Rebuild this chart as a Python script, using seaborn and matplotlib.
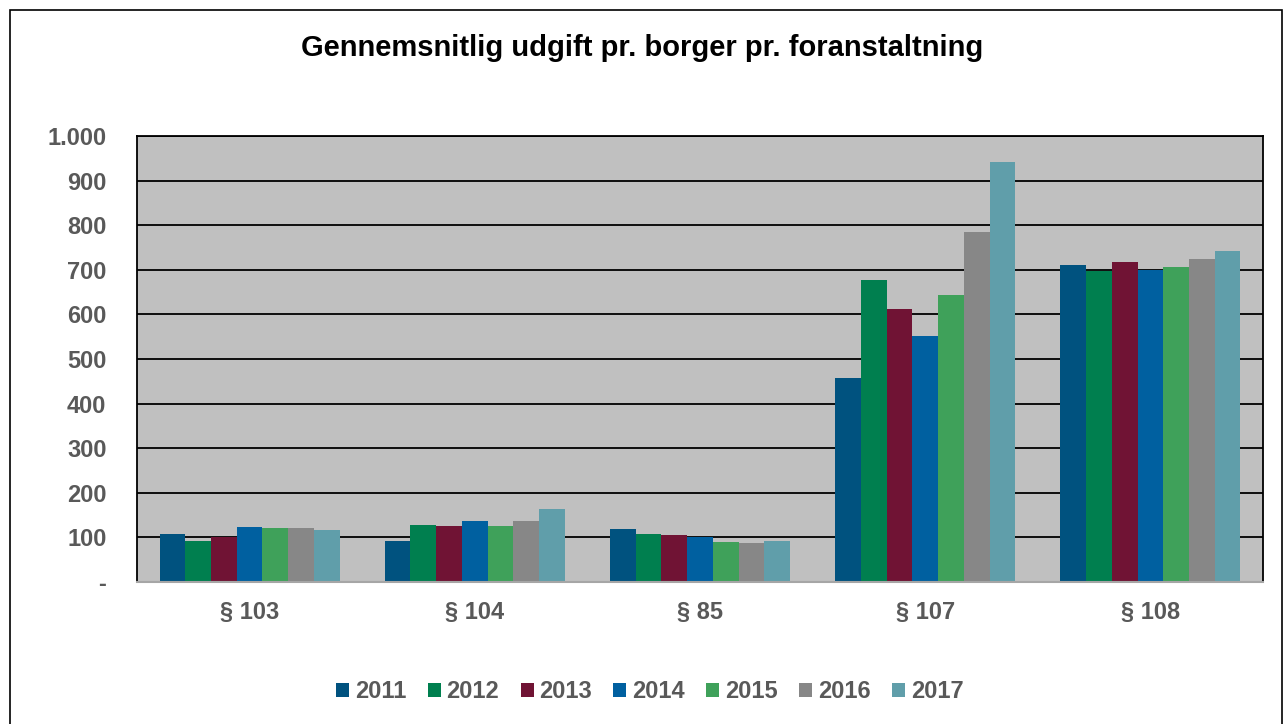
import pandas as pd
import seaborn as sns
import matplotlib.pyplot as plt
import matplotlib.patches as patches
from matplotlib.ticker import FuncFormatter

# data
paragraphs = ['§ 103', '§ 104', '§ 85', '§ 107', '§ 108']
years = ['2011', '2012', '2013', '2014', '2015', '2016', '2017']
v2011 = [108, 91, 119, 457, 710]
v2012 = [92, 128, 108, 677, 697]
v2013 = [102, 126, 105, 613, 717]
v2014 = [123, 136, 100, 552, 699]
v2015 = [122, 126, 90, 644, 706]
v2016 = [122, 136, 87, 785, 724]
v2017 = [117, 164, 92, 941, 742]
colors = ['#00527F', '#007F4F', '#701334', '#0060A0', '#3FA15A', '#878787', '#609EAA']

series = [v2011, v2012, v2013, v2014, v2015, v2016, v2017]
rows = []
for y, vals in zip(years, series):
    for p, v in zip(paragraphs, vals):
        rows.append({'par': p, 'year': y, 'value': v})
df = pd.DataFrame(rows)

sns.set_style('white')
plt.rcParams['font.family'] = ['Liberation Sans', 'DejaVu Sans']
txt = '#595959'

fig = plt.figure(figsize=(12.84, 7.24), dpi=100)
ax = fig.add_axes([137/1284, 1-582/724, (1263-137)/1284, (582-136)/724])
ax.set_facecolor('#C0C0C0')

sns.barplot(data=df, x='par', y='value', hue='year', order=paragraphs,
            hue_order=years, palette=colors, width=0.8, linewidth=0,
            saturation=1, ax=ax)

ax.set_ylim(0, 1000)
ax.set_yticks(range(0, 1001, 100))
ax.yaxis.set_major_formatter(FuncFormatter(
    lambda v, _: '-' if v == 0 else f'{int(v):,}'.replace(',', '.')))
ax.grid(axis='y', color='black', linewidth=1.3)
ax.set_axisbelow(True)
ax.set_xlabel('')
ax.set_ylabel('')
ax.tick_params(length=0)
ax.tick_params(axis='y', pad=22)
ax.tick_params(axis='x', pad=14)
for lab in ax.get_xticklabels() + ax.get_yticklabels():
    lab.set_fontsize(17)
    lab.set_fontweight('bold')
    lab.set_color(txt)

for s in ['left', 'top', 'right']:
    ax.spines[s].set_color('black')
    ax.spines[s].set_linewidth(1.3)
ax.spines['bottom'].set_color('#A6A6A6')
ax.spines['bottom'].set_linewidth(1.5)

fig.text(0.5, 1-48/724, 'Gennemsnitlig udgift pr. borger pr. foranstaltning',
         ha='center', va='center', fontsize=21, fontweight='bold', color='black')

handles, labels = ax.get_legend_handles_labels()
ax.legend_.remove()
leg = fig.legend(handles, labels, loc='center', bbox_to_anchor=(0.506, 1-692/724),
                 ncol=7, frameon=False, handlelength=0.55, handleheight=0.55,
                 handletextpad=0.25, columnspacing=0.9,
                 prop={'weight': 'bold', 'size': 17})
for t in leg.get_texts():
    t.set_color(txt)

fig.patches.append(patches.Rectangle((10/1284, -0.01), (1282-10)/1284, 1.01-10/724,
                                     transform=fig.transFigure, fill=False,
                                     edgecolor='black', linewidth=1.2))

fig.savefig('out.png', dpi=100)
